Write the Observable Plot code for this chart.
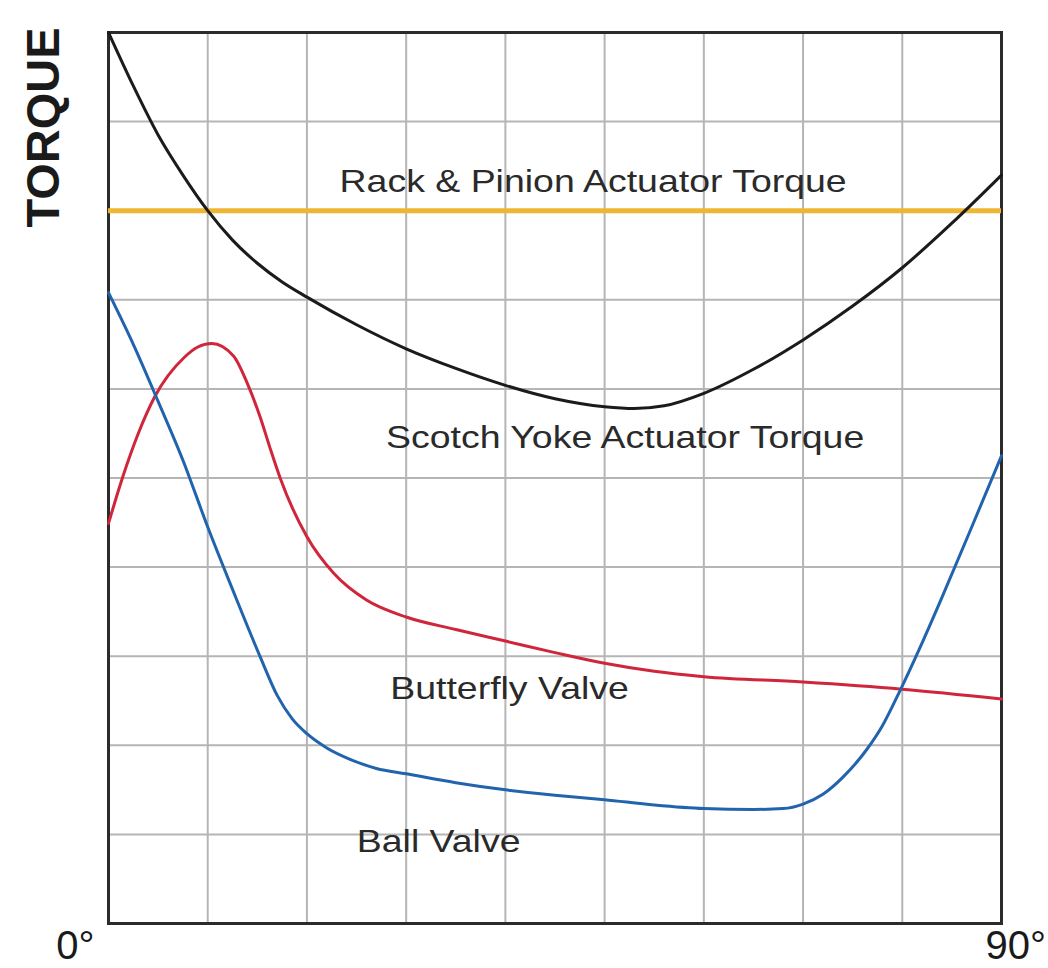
<!DOCTYPE html>
<html>
<head>
<meta charset="utf-8">
<script src="https://cdn.jsdelivr.net/npm/d3@7"></script>
<script src="https://cdn.jsdelivr.net/npm/@observablehq/plot@0.6"></script>
<style>
  html, body { margin: 0; padding: 0; background: #fff; }
  #chart { width: 1048px; height: 968px; }
</style>
</head>
<body>
<div id="chart"></div>
<script>
// ---- Data ----
// Scotch Yoke actuator torque (black)
const scotchDeg    = [0, 2.5, 5, 7.5, 10, 12.5, 15, 17.5, 20, 25, 30, 35, 40, 45, 50, 53, 56, 60, 65, 70, 75, 80, 85, 90];
const scotchTorque = [10, 9.4, 8.85, 8.4, 8.0, 7.67, 7.41, 7.2, 7.03, 6.72, 6.45, 6.23, 6.04, 5.89, 5.8, 5.78, 5.81, 5.95, 6.22, 6.55, 6.93, 7.36, 7.86, 8.4];

// Butterfly valve torque (red)
const butterflyDeg    = [0, 1.4, 3, 4.7, 7.6, 9, 10.4, 12.6, 14, 15.3, 16.3, 17.3, 20, 22.7, 26, 30, 35, 40, 45, 50, 55, 60, 70, 80, 90];
const butterflyTorque = [4.49, 5.0, 5.5, 5.92, 6.35, 6.47, 6.51, 6.37, 6.06, 5.68, 5.33, 5.0, 4.34, 3.93, 3.63, 3.44, 3.3, 3.17, 3.04, 2.92, 2.83, 2.77, 2.71, 2.63, 2.52];

// Ball valve torque (blue)
const ballDeg    = [0, 2.5, 5, 7.5, 10, 12.5, 15.3, 17, 18.5, 20, 22, 24.4, 27, 30, 35, 40, 45, 50, 55, 60, 65, 68, 70, 72, 74, 76.4, 78, 79.8, 82, 84, 87, 90];
const ballTorque = [7.08, 6.5, 5.86, 5.2, 4.45, 3.75, 2.99, 2.56, 2.3, 2.13, 1.97, 1.84, 1.74, 1.68, 1.58, 1.5, 1.44, 1.39, 1.33, 1.29, 1.28, 1.29, 1.34, 1.45, 1.64, 1.95, 2.22, 2.62, 3.15, 3.66, 4.45, 5.25];

// Rack & pinion actuator torque (constant, yellow)
const rackTorque = 8;

// Grid / tick values
const xGrid = [10, 20, 30, 40, 50, 60, 70, 80];
const yGrid = [1, 2, 3, 4, 5, 6, 7, 8, 9];
const xEndTicks = [0, 90];

// Curve label texts and their anchors (in degrees / torque units)
const labelText   = ["Rack & Pinion Actuator Torque", "Scotch Yoke Actuator Torque", "Butterfly Valve", "Ball Valve"];
const labelDeg    = [48.84, 52.07, 40.42, 33.27];
const labelTorque = [8.32, 5.45, 2.63, 0.915];

// ---- Build tables ----
const toRows = (xs, ys) => xs.map((d, i) => ({deg: d, torque: ys[i]}));
const scotch = toRows(scotchDeg, scotchTorque);
const butterfly = toRows(butterflyDeg, butterflyTorque);
const ball = toRows(ballDeg, ballTorque);
const labels = labelText.map((t, i) => ({text: t, deg: labelDeg[i], torque: labelTorque[i]}));

const font = "'Liberation Sans', Arial, Helvetica, sans-serif";

const chart = Plot.plot({
  width: 1048,
  height: 968,
  marginLeft: 108,
  marginRight: 47,
  marginTop: 32,
  marginBottom: 45,
  x: {domain: [0, 90], axis: null},
  y: {domain: [0, 10], axis: null},
  style: {fontFamily: font, background: "#fff", overflow: "visible"},
  marks: [
    Plot.ruleX(xGrid, {stroke: "#b5b5b5", strokeWidth: 2}),
    Plot.ruleY(yGrid, {stroke: "#b5b5b5", strokeWidth: 2}),
    Plot.frame({stroke: "#2b2b2b", strokeWidth: 3}),
    Plot.ruleY([rackTorque], {stroke: "#efb634", strokeWidth: 5}),
    Plot.line(scotch, {x: "deg", y: "torque", stroke: "#1b1b1b", strokeWidth: 3, curve: "monotone-x"}),
    Plot.line(butterfly, {x: "deg", y: "torque", stroke: "#cf263b", strokeWidth: 3, curve: "monotone-x"}),
    Plot.line(ball, {x: "deg", y: "torque", stroke: "#2164ad", strokeWidth: 3, curve: "monotone-x"}),
    Plot.text(labels, {x: "deg", y: "torque", text: "text", fontSize: 32, fill: "#2a2a2a", lineAnchor: "middle", textAnchor: "middle"}),
    Plot.text([xEndTicks[0]], {x: d => d, y: 0, text: d => `${d}°`, fontSize: 40, fill: "#1a1a1a", textAnchor: "end", lineAnchor: "bottom", dx: -14, dy: 35}),
    Plot.text([xEndTicks[1]], {x: d => d, y: 0, text: d => `${d}°`, fontSize: 40, fill: "#1a1a1a", textAnchor: "start", lineAnchor: "bottom", dx: -16, dy: 35}),
    Plot.text(["TORQUE"], {frameAnchor: "top-left", text: d => d, rotate: -90, fontSize: 47, fontWeight: "bold", fill: "#1a1a1a", textAnchor: "middle", lineAnchor: "middle", dx: -64.5, dy: 95})
  ]
});

document.getElementById("chart").appendChild(chart);

// The reference lettering of the curve labels is set wider than Liberation Sans; stretch it to match.
d3.select(chart).selectAll("text").each(function () {
  if (labelText.includes(this.textContent)) {
    const w = this.getComputedTextLength();
    this.setAttribute("textLength", (w * 1.17).toFixed(1));
    this.setAttribute("lengthAdjust", "spacingAndGlyphs");
  }
});
</script>
</body>
</html>
